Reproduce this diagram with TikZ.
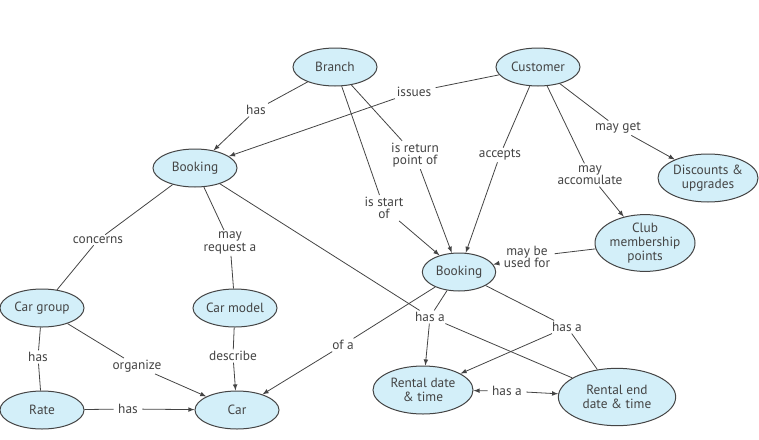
\documentclass[tikz,border=0pt]{standalone}
\usepackage{fontspec}
\setmainfont{PT Sans}
\usetikzlibrary{shapes.geometric}
\definecolor{conceptfill}{HTML}{D3EFF9}
\definecolor{linegray}{HTML}{444444}
\tikzset{every picture/.style={line width=0.75pt}}
\tikzset{
  concept/.style={ellipse, draw=linegray, fill=conceptfill, inner sep=0pt, align=center, font=\fontsize{10}{10.5}\selectfont, text=linegray},
  small/.style={minimum width=63pt, minimum height=28.5pt},
  large/.style={minimum width=75pt, minimum height=36pt},
  link/.style={fill=white, inner xsep=3pt, inner ysep=1pt, align=center, font=\fontsize{10}{9.5}\selectfont, text=linegray},
  rel/.style={draw=linegray, line width=0.6pt},
  tip/.style={rel, -latex}
}
\begin{document}
\begin{tikzpicture}[x=0.75pt,y=0.75pt,yscale=-1,xscale=1]
\useasboundingbox (0,0) rectangle (759,439);

% Concepts
\node [concept, small] (branch) at (335,67) {Branch};
\node [concept, small] (customer) at (538,67) {Customer};
\node [concept, small] (booking) at (195,168) {Booking};
\node [concept, small, minimum width=55pt] (bookingb) at (459,272) {Booking};
\node [concept, large] (discounts) at (708,178) {Discounts \&\\upgrades};
\node [concept, large] (club) at (645,243) {Club\\membership\\points};
\node [concept, small] (cargroup) at (42,308) {Car group};
\node [concept, small] (carmodel) at (235,308) {Car model};
\node [concept, small] (rate) at (42,410) {Rate};
\node [concept, small] (car) at (237,410) {Car};
\node [concept, large] (rentdate) at (423,390) {Rental date\\\& time};
\node [concept, minimum width=88pt, minimum height=43pt] (rentend) at (617,397) {Rental end\\date \& time};

% Linking phrases
\node [link] (lhas) at (256,110) {has};
\node [link] (lissues) at (414,92) {issues};
\node [link] (lreturn) at (415,155) {is return\\point of};
\node [link] (lstart) at (384,208) {is start\\of};
\node [link] (laccepts) at (500,155) {accepts};
\node [link] (lmayget) at (618,128) {may get};
\node [link] (laccum) at (590,175) {may\\accomulate};
\node [link] (lused) at (527,257) {may be\\used for};
\node [link] (lconcerns) at (98,240) {concerns};
\node [link] (lrequest) at (230,243) {may\\request a};
\node [link] (lrate) at (38,357) {has};
\node [link] (lorganize) at (137,366) {organize};
\node [link] (ldescribe) at (233,356) {describe};
\node [link] (lratecar) at (128,409) {has};
\node [link] (lofa) at (343,345) {of a};
\node [link] (lhasa) at (430,317) {has a};
\node [link] (lhasb) at (567,327) {has a};
\node [link] (lhasc) at (507,391) {has a};

% Connections
\draw [rel] (branch) -- (lhas);
\draw [tip] (lhas) -- (booking);
\draw [rel] (customer) -- (lissues);
\draw [tip] (lissues) -- (booking);
\draw [rel] (branch) -- (lreturn);
\draw [tip] (lreturn) -- (bookingb);
\draw [rel] (branch) -- (lstart);
\draw [tip] (lstart) -- (bookingb);
\draw [rel] (customer) -- (laccepts);
\draw [tip] (laccepts) -- (bookingb);
\draw [rel] (customer) -- (lmayget);
\draw [tip] (lmayget) -- (discounts);
\draw [rel] (customer) -- (laccum);
\draw [tip] (laccum) -- (club);
\draw [rel] (club) -- (lused);
\draw [tip] (lused) -- (bookingb);
\draw [rel] (booking) -- (lconcerns) -- (cargroup);
\draw [rel] (booking) -- (lrequest) -- (carmodel);
\draw [rel] (cargroup) -- (lrate) -- (rate);
\draw [rel] (cargroup) -- (lorganize);
\draw [tip] (lorganize) -- (car);
\draw [rel] (carmodel) -- (ldescribe);
\draw [tip] (ldescribe) -- (car);
\draw [rel] (rate) -- (lratecar);
\draw [tip] (lratecar) -- (car);
\draw [rel] (bookingb) -- (lofa);
\draw [tip] (lofa) -- (car);
\draw [rel] (bookingb) -- (lhasa);
\draw [tip] (lhasa) -- (rentdate);
\draw [rel] (booking) -- (lhasa);
\draw [rel] (lhasa) -- (rentend);
\draw [rel] (bookingb) -- (lhasb);
\draw [rel] (lhasb) -- (rentend);
\draw [tip] (lhasb) -- (rentdate);
\draw [tip] (lhasc) -- (rentdate);
\draw [tip] (lhasc) -- (rentend);
\end{tikzpicture}
\end{document}
